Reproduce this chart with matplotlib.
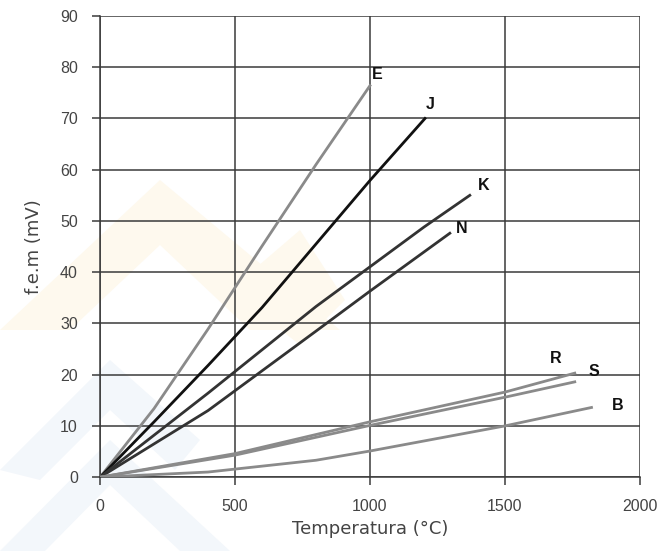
import matplotlib.pyplot as plt
from matplotlib.patches import Polygon

# thermocouple emf curves
e_t = [0, 200, 400, 600, 800, 1000]
e_mv = [0, 13.4, 28.9, 45.1, 61.0, 76.4]
j_t = [0, 200, 400, 600, 800, 1000, 1204]
j_mv = [0, 10.8, 21.8, 33.1, 45.5, 57.9, 70.0]
k_t = [0, 400, 800, 1200, 1370]
k_mv = [0, 16.4, 33.3, 48.8, 55.0]
n_t = [0, 400, 800, 1000, 1296]
n_mv = [0, 13.0, 28.5, 36.3, 47.6]
r_t = [0, 500, 1000, 1500, 1759]
r_mv = [0, 4.6, 10.8, 16.6, 20.3]
s_t = [0, 500, 1000, 1500, 1759]
s_mv = [0, 4.3, 10.1, 15.6, 18.6]
b_t = [0, 400, 800, 1000, 1500, 1821]
b_mv = [0, 1.0, 3.3, 5.1, 10.0, 13.6]

series = [
    ('E', e_t, e_mv, '#8a8a8a', (1026, 78.5)),
    ('J', j_t, j_mv, '#111111', (1222, 72.8)),
    ('K', k_t, k_mv, '#333333', (1422, 57.0)),
    ('N', n_t, n_mv, '#333333', (1341, 48.6)),
    ('R', r_t, r_mv, '#8a8a8a', (1689, 23.2)),
    ('S', s_t, s_mv, '#8a8a8a', (1830, 20.7)),
    ('B', b_t, b_mv, '#8a8a8a', (1919, 13.9)),
]

fig = plt.figure(figsize=(6.63, 5.51), dpi=100)
fig.patch.set_facecolor('white')

# faint watermark shapes behind the chart (pixel coords, y from top)
W, H = 663, 551
bg = fig.add_axes([0, 0, 1, 1], zorder=-1)
bg.set_xlim(0, W)
bg.set_ylim(H, 0)
bg.axis('off')

def wm(pts, color):
    bg.add_patch(Polygon(pts, closed=True, facecolor=color, edgecolor='none'))

wm([(0, 330), (160, 180), (340, 330), (250, 330), (160, 245), (70, 330)], '#fef9ee')
wm([(230, 290), (300, 230), (345, 300), (300, 345)], '#fef9ee')
wm([(0, 470), (110, 360), (200, 440), (175, 470), (110, 410), (40, 480)], '#f3f7fb')
wm([(0, 551), (110, 440), (230, 551), (180, 551), (110, 485), (45, 551)], '#f3f7fb')

ax = fig.add_axes([0.151, 0.134, 0.814, 0.837], zorder=1)
ax.set_facecolor('none')

for name, t, mv, col, (lx, ly) in series:
    ax.plot(t, mv, color=col, lw=2.0, zorder=3)
    ax.text(lx, ly, name, ha='center', va='center', fontsize=11.5,
            fontweight='bold', family='Liberation Sans', color='#111111', zorder=4)

ax.set_xlim(0, 2000)
ax.set_ylim(0, 90)
ax.set_xticks([0, 500, 1000, 1500, 2000])
ax.set_yticks(range(0, 91, 10))
ax.grid(True, color='#3a3a3a', lw=1.1)
ax.set_axisbelow(True)
for sp in ['top', 'right']:
    ax.spines[sp].set_visible(False)
for sp in ['left', 'bottom']:
    ax.spines[sp].set_color('#3a3a3a')
    ax.spines[sp].set_linewidth(1.1)

ax.tick_params(direction='out', length=6, width=1.1, color='#3a3a3a',
               labelsize=11.5, labelcolor='#444444', pad=10)
for lab in ax.get_xticklabels() + ax.get_yticklabels():
    lab.set_family('Liberation Sans')

ax.set_xlabel('Temperatura (°C)', fontsize=13, color='#444444', labelpad=4)
ax.set_ylabel('f.e.m (mV)', fontsize=13, color='#444444', labelpad=12)

fig.savefig('out.png', dpi=100, facecolor='white')
